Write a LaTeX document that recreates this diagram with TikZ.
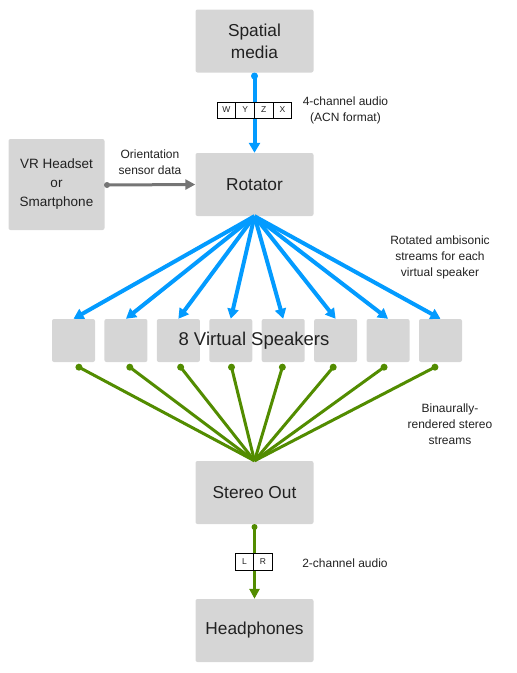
\documentclass[tikz,border=0pt]{standalone}
\usepackage{fontspec}
\setmainfont{Liberation Sans}
\usetikzlibrary{arrows.meta,calc}
\definecolor{boxgray}{RGB}{214,214,214}
\definecolor{flowblue}{RGB}{3,155,255}
\definecolor{flowgreen}{RGB}{82,140,0}
\definecolor{txt}{RGB}{33,33,33}
\definecolor{arrgray}{RGB}{117,117,117}
\tikzset{
  bigbox/.style={fill=boxgray, rounded corners=2pt, inner sep=0pt, minimum width=118pt, minimum height=63pt, text=txt, align=center, font=\fontsize{17.3}{22}\selectfont},
  vrbox/.style={fill=boxgray, rounded corners=2pt, inner sep=0pt, minimum width=96pt, minimum height=91pt, text=txt, align=center, font=\fontsize{13.5}{19}\selectfont},
  spkbox/.style={fill=boxgray, rounded corners=2pt, inner sep=0pt, minimum width=43pt, minimum height=43pt},
  chbox/.style={draw=black, fill=white, line width=0.8pt, inner sep=0pt, minimum width=18.7pt, minimum height=16pt, font=\fontsize{8.5}{9}\selectfont, text=txt},
  lbl/.style={text=txt, align=center, inner sep=0pt, font=\fontsize{12}{16}\selectfont},
  bluearr/.style={draw=flowblue, line width=4pt, -{Triangle[length=10pt,width=11pt]}},
  greenln/.style={draw=flowgreen, line width=3pt},
  greenarr/.style={draw=flowgreen, line width=3pt, -{Triangle[length=10pt,width=10pt]}},
  grayarr/.style={draw=arrgray, line width=3pt, -{Triangle[length=10pt,width=10pt]}},
}
\begin{document}
\begin{tikzpicture}[x=1pt,y=-1pt]
\useasboundingbox (0,0) rectangle (517,673);
% main boxes
\node[bigbox] (media) at (254.5,41) {Spatial\\media};
\node[bigbox] (rot) at (254.5,184.5) {Rotator};
\node[vrbox] (vr) at (56.5,184.5) {VR Headset\\or\\Smartphone};
\node[bigbox] (stereo) at (254.5,492.5) {Stereo Out};
\node[bigbox] (head) at (254.5,630.5) {Headphones};
% speakers
\foreach \i in {1,...,8} {
  \node[spkbox] (s\i) at ({73.5+52.43*(\i-1)},340.5) {};
}
\node[text=txt, inner sep=0pt, font=\fontsize{18.5}{20}\selectfont] (spklabel) at (254,341) {8 Virtual Speakers};
% media -> rotator
\coordinate (mdot) at (254.5,76);
\draw[bluearr] (mdot) -- (rot.north);
\fill[flowblue] (mdot) circle (3.5pt);
\node[chbox] (cw) at (226.4,110) {W};
\node[chbox] (cy) at (245.1,110) {Y};
\node[chbox] (cz) at (263.8,110) {Z};
\node[chbox] (cx) at (282.5,110) {X};
\node[lbl] (acn) at (345.5,110) {4-channel audio\\(ACN format)};
% vr -> rotator
\coordinate (vdot) at (107,185);
\draw[grayarr] (vdot) -- (rot.west);
\fill[arrgray] (vdot) circle (3pt);
\node[lbl] (orient) at (150,162) {Orientation\\sensor data};
% rotator -> speakers
\foreach \i in {1,...,8} {
  \draw[bluearr] (rot.south) -- (s\i.north);
}
\node[lbl] (rotlbl) at (440,257) {Rotated ambisonic\\streams for each\\virtual speaker};
% speakers -> stereo
\foreach \i in {1,...,8} {
  \coordinate (g\i) at ($(s\i.south)!0.03!(stereo.north)+(0,2)$);
  \draw[greenln] (g\i) -- (stereo.north);
  \fill[flowgreen] (g\i) circle (3.5pt);
}
\node[lbl] (binlbl) at (450,424) {Binaurally-\\rendered stereo\\streams};
% stereo -> headphones
\coordinate (sdot) at (254.5,527);
\draw[greenarr] (sdot) -- (head.north);
\fill[flowgreen] (sdot) circle (3pt);
\node[chbox, minimum width=18.5pt, minimum height=17pt] (cl) at (244.5,561.5) {L};
\node[chbox, minimum width=18.5pt, minimum height=17pt] (cr) at (263,561.5) {R};
\node[lbl] (twoch) at (345,563) {2-channel audio};
\end{tikzpicture}
\end{document}
